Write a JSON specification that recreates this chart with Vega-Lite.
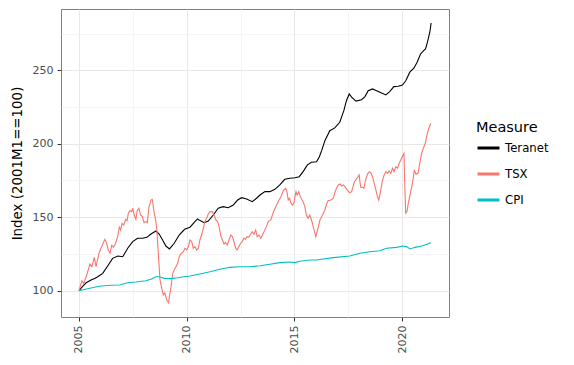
{
  "$schema": "https://vega.github.io/schema/vega-lite/v6.json",
  "width": 388,
  "height": 308,
  "autosize": {"type": "none"},
  "padding": {"left": 61, "top": 9, "right": 125, "bottom": 48},
  "background": "white",
  "config": {
    "font": "DejaVu Sans",
    "view": {"stroke": "#7f7f7f", "strokeWidth": 1},
    "axis": {
      "domain": false,
      "gridColor": "#e8e8e8",
      "gridWidth": 1,
      "tickColor": "#333333",
      "tickSize": 4,
      "labelColor": "#4d4d4d",
      "labelFontSize": 11,
      "labelPadding": 4,
      "titleFontWeight": "normal",
      "titleColor": "#000000",
      "titleFontSize": 13.4
    }
  },
  "data": {
    "values": [
      {"t": 2005.0, "m": "Teranet", "v": 100},
      {"t": 2005.17, "m": "Teranet", "v": 103},
      {"t": 2005.33, "m": "Teranet", "v": 105.4},
      {"t": 2005.56, "m": "Teranet", "v": 107.3},
      {"t": 2005.75, "m": "Teranet", "v": 108.5},
      {"t": 2005.87, "m": "Teranet", "v": 109.5},
      {"t": 2006.1, "m": "Teranet", "v": 111.8},
      {"t": 2006.33, "m": "Teranet", "v": 116.8},
      {"t": 2006.56, "m": "Teranet", "v": 122},
      {"t": 2006.8, "m": "Teranet", "v": 123.6},
      {"t": 2007.03, "m": "Teranet", "v": 123.1},
      {"t": 2007.26, "m": "Teranet", "v": 128.9},
      {"t": 2007.49, "m": "Teranet", "v": 133.4},
      {"t": 2007.72, "m": "Teranet", "v": 135.7},
      {"t": 2007.95, "m": "Teranet", "v": 135.7},
      {"t": 2008.15, "m": "Teranet", "v": 136.3},
      {"t": 2008.34, "m": "Teranet", "v": 138.6},
      {"t": 2008.57, "m": "Teranet", "v": 140.6},
      {"t": 2008.72, "m": "Teranet", "v": 138.6},
      {"t": 2008.88, "m": "Teranet", "v": 134.5},
      {"t": 2009.03, "m": "Teranet", "v": 130.4},
      {"t": 2009.2, "m": "Teranet", "v": 128.4},
      {"t": 2009.42, "m": "Teranet", "v": 132.3},
      {"t": 2009.65, "m": "Teranet", "v": 137.9},
      {"t": 2009.9, "m": "Teranet", "v": 141.8},
      {"t": 2010.15, "m": "Teranet", "v": 143.2},
      {"t": 2010.38, "m": "Teranet", "v": 147},
      {"t": 2010.5, "m": "Teranet", "v": 148.8},
      {"t": 2010.62, "m": "Teranet", "v": 147.7},
      {"t": 2010.81, "m": "Teranet", "v": 146.3},
      {"t": 2011.0, "m": "Teranet", "v": 147.4},
      {"t": 2011.23, "m": "Teranet", "v": 151.5},
      {"t": 2011.46, "m": "Teranet", "v": 156.1},
      {"t": 2011.69, "m": "Teranet", "v": 157.2},
      {"t": 2011.92, "m": "Teranet", "v": 156.5},
      {"t": 2012.16, "m": "Teranet", "v": 158.3},
      {"t": 2012.36, "m": "Teranet", "v": 161.7},
      {"t": 2012.55, "m": "Teranet", "v": 163.3},
      {"t": 2012.78, "m": "Teranet", "v": 162.4},
      {"t": 2013.04, "m": "Teranet", "v": 160.6},
      {"t": 2013.24, "m": "Teranet", "v": 162.9},
      {"t": 2013.4, "m": "Teranet", "v": 165.1},
      {"t": 2013.63, "m": "Teranet", "v": 167.4},
      {"t": 2013.86, "m": "Teranet", "v": 167.4},
      {"t": 2014.09, "m": "Teranet", "v": 169},
      {"t": 2014.32, "m": "Teranet", "v": 172},
      {"t": 2014.55, "m": "Teranet", "v": 175.8},
      {"t": 2014.79, "m": "Teranet", "v": 176.5},
      {"t": 2015.02, "m": "Teranet", "v": 176.9},
      {"t": 2015.22, "m": "Teranet", "v": 177.6},
      {"t": 2015.4, "m": "Teranet", "v": 181},
      {"t": 2015.6, "m": "Teranet", "v": 185.6},
      {"t": 2015.79, "m": "Teranet", "v": 187.4},
      {"t": 2016.02, "m": "Teranet", "v": 187.8},
      {"t": 2016.15, "m": "Teranet", "v": 191},
      {"t": 2016.26, "m": "Teranet", "v": 195.3},
      {"t": 2016.41, "m": "Teranet", "v": 202.1},
      {"t": 2016.64, "m": "Teranet", "v": 208.9},
      {"t": 2016.87, "m": "Teranet", "v": 210.8},
      {"t": 2017.1, "m": "Teranet", "v": 214.6},
      {"t": 2017.29, "m": "Teranet", "v": 222.5},
      {"t": 2017.41, "m": "Teranet", "v": 229.3},
      {"t": 2017.54, "m": "Teranet", "v": 233.9},
      {"t": 2017.65, "m": "Teranet", "v": 231.7},
      {"t": 2017.85, "m": "Teranet", "v": 229},
      {"t": 2018.11, "m": "Teranet", "v": 230},
      {"t": 2018.27, "m": "Teranet", "v": 232.1},
      {"t": 2018.42, "m": "Teranet", "v": 236.1},
      {"t": 2018.62, "m": "Teranet", "v": 237.3},
      {"t": 2018.81, "m": "Teranet", "v": 236.1},
      {"t": 2019.04, "m": "Teranet", "v": 234.6},
      {"t": 2019.24, "m": "Teranet", "v": 233.2},
      {"t": 2019.43, "m": "Teranet", "v": 235.7},
      {"t": 2019.61, "m": "Teranet", "v": 238.9},
      {"t": 2019.81, "m": "Teranet", "v": 239.1},
      {"t": 2020.01, "m": "Teranet", "v": 240},
      {"t": 2020.17, "m": "Teranet", "v": 243},
      {"t": 2020.35, "m": "Teranet", "v": 248.7},
      {"t": 2020.54, "m": "Teranet", "v": 251.4},
      {"t": 2020.69, "m": "Teranet", "v": 255.5},
      {"t": 2020.85, "m": "Teranet", "v": 261.1},
      {"t": 2020.97, "m": "Teranet", "v": 263},
      {"t": 2021.08, "m": "Teranet", "v": 264.5},
      {"t": 2021.17, "m": "Teranet", "v": 269.1},
      {"t": 2021.28, "m": "Teranet", "v": 275.9},
      {"t": 2021.34, "m": "Teranet", "v": 282.2},

      {"t": 2005.0, "m": "TSX", "v": 100},
      {"t": 2005.08, "m": "TSX", "v": 104},
      {"t": 2005.13, "m": "TSX", "v": 106.8},
      {"t": 2005.22, "m": "TSX", "v": 105},
      {"t": 2005.36, "m": "TSX", "v": 110.7},
      {"t": 2005.51, "m": "TSX", "v": 118.2},
      {"t": 2005.6, "m": "TSX", "v": 116.3},
      {"t": 2005.71, "m": "TSX", "v": 122.7},
      {"t": 2005.79, "m": "TSX", "v": 116.3},
      {"t": 2005.93, "m": "TSX", "v": 125.5},
      {"t": 2006.02, "m": "TSX", "v": 128.9},
      {"t": 2006.2, "m": "TSX", "v": 135},
      {"t": 2006.28, "m": "TSX", "v": 132.3},
      {"t": 2006.36, "m": "TSX", "v": 127.7},
      {"t": 2006.44, "m": "TSX", "v": 125.5},
      {"t": 2006.52, "m": "TSX", "v": 131},
      {"t": 2006.6, "m": "TSX", "v": 129.5},
      {"t": 2006.7, "m": "TSX", "v": 132.3},
      {"t": 2006.8, "m": "TSX", "v": 137.2},
      {"t": 2006.87, "m": "TSX", "v": 143.2},
      {"t": 2006.93, "m": "TSX", "v": 141.3},
      {"t": 2007.0, "m": "TSX", "v": 145.9},
      {"t": 2007.08, "m": "TSX", "v": 144.7},
      {"t": 2007.17, "m": "TSX", "v": 148.6},
      {"t": 2007.23, "m": "TSX", "v": 147.7},
      {"t": 2007.29, "m": "TSX", "v": 152.7},
      {"t": 2007.37, "m": "TSX", "v": 154.5},
      {"t": 2007.45, "m": "TSX", "v": 153.8},
      {"t": 2007.5, "m": "TSX", "v": 156.1},
      {"t": 2007.56, "m": "TSX", "v": 151.5},
      {"t": 2007.64, "m": "TSX", "v": 148.6},
      {"t": 2007.7, "m": "TSX", "v": 154.5},
      {"t": 2007.78, "m": "TSX", "v": 156.1},
      {"t": 2007.86, "m": "TSX", "v": 151.5},
      {"t": 2007.94, "m": "TSX", "v": 150.4},
      {"t": 2008.02, "m": "TSX", "v": 146.3},
      {"t": 2008.1, "m": "TSX", "v": 147},
      {"t": 2008.17, "m": "TSX", "v": 146.3},
      {"t": 2008.25, "m": "TSX", "v": 157.2},
      {"t": 2008.34, "m": "TSX", "v": 161.7},
      {"t": 2008.4, "m": "TSX", "v": 162.2},
      {"t": 2008.48, "m": "TSX", "v": 153.8},
      {"t": 2008.56, "m": "TSX", "v": 148.1},
      {"t": 2008.62, "m": "TSX", "v": 140.2},
      {"t": 2008.68, "m": "TSX", "v": 125.5},
      {"t": 2008.76, "m": "TSX", "v": 107.3},
      {"t": 2008.84, "m": "TSX", "v": 101.6},
      {"t": 2008.91, "m": "TSX", "v": 97.1},
      {"t": 2008.98, "m": "TSX", "v": 98.6},
      {"t": 2009.07, "m": "TSX", "v": 93.7},
      {"t": 2009.15, "m": "TSX", "v": 91.8},
      {"t": 2009.27, "m": "TSX", "v": 102.7},
      {"t": 2009.35, "m": "TSX", "v": 111.8},
      {"t": 2009.42, "m": "TSX", "v": 114.1},
      {"t": 2009.5, "m": "TSX", "v": 116.3},
      {"t": 2009.58, "m": "TSX", "v": 118.6},
      {"t": 2009.65, "m": "TSX", "v": 123.1},
      {"t": 2009.75, "m": "TSX", "v": 125.5},
      {"t": 2009.84, "m": "TSX", "v": 126.5},
      {"t": 2009.92, "m": "TSX", "v": 128.9},
      {"t": 2010.0, "m": "TSX", "v": 127.7},
      {"t": 2010.08, "m": "TSX", "v": 130},
      {"t": 2010.15, "m": "TSX", "v": 134.5},
      {"t": 2010.23, "m": "TSX", "v": 133.4},
      {"t": 2010.3, "m": "TSX", "v": 128.9},
      {"t": 2010.38, "m": "TSX", "v": 130},
      {"t": 2010.46, "m": "TSX", "v": 127.7},
      {"t": 2010.54, "m": "TSX", "v": 128.9},
      {"t": 2010.61, "m": "TSX", "v": 134.5},
      {"t": 2010.69, "m": "TSX", "v": 137.9},
      {"t": 2010.77, "m": "TSX", "v": 142.5},
      {"t": 2010.84, "m": "TSX", "v": 147},
      {"t": 2010.92, "m": "TSX", "v": 149.3},
      {"t": 2011.0, "m": "TSX", "v": 152.2},
      {"t": 2011.08, "m": "TSX", "v": 153.8},
      {"t": 2011.18, "m": "TSX", "v": 153.8},
      {"t": 2011.27, "m": "TSX", "v": 151.5},
      {"t": 2011.35, "m": "TSX", "v": 148.1},
      {"t": 2011.43, "m": "TSX", "v": 147},
      {"t": 2011.5, "m": "TSX", "v": 143.6},
      {"t": 2011.59, "m": "TSX", "v": 136.8},
      {"t": 2011.66, "m": "TSX", "v": 134.5},
      {"t": 2011.73, "m": "TSX", "v": 131.8},
      {"t": 2011.8, "m": "TSX", "v": 132.7},
      {"t": 2011.88, "m": "TSX", "v": 131.1},
      {"t": 2011.96, "m": "TSX", "v": 134.5},
      {"t": 2012.04, "m": "TSX", "v": 137.9},
      {"t": 2012.12, "m": "TSX", "v": 136.8},
      {"t": 2012.19, "m": "TSX", "v": 133.4},
      {"t": 2012.27, "m": "TSX", "v": 128.9},
      {"t": 2012.34, "m": "TSX", "v": 127.7},
      {"t": 2012.42, "m": "TSX", "v": 130},
      {"t": 2012.5, "m": "TSX", "v": 132.3},
      {"t": 2012.57, "m": "TSX", "v": 133.4},
      {"t": 2012.65, "m": "TSX", "v": 135.7},
      {"t": 2012.72, "m": "TSX", "v": 135},
      {"t": 2012.8, "m": "TSX", "v": 136.8},
      {"t": 2012.88, "m": "TSX", "v": 136.4},
      {"t": 2012.96, "m": "TSX", "v": 138.6},
      {"t": 2013.04, "m": "TSX", "v": 140.2},
      {"t": 2013.12, "m": "TSX", "v": 138.4},
      {"t": 2013.2, "m": "TSX", "v": 141.3},
      {"t": 2013.27, "m": "TSX", "v": 136.8},
      {"t": 2013.35, "m": "TSX", "v": 137.9},
      {"t": 2013.44, "m": "TSX", "v": 135.7},
      {"t": 2013.55, "m": "TSX", "v": 139.1},
      {"t": 2013.7, "m": "TSX", "v": 143.6},
      {"t": 2013.78, "m": "TSX", "v": 147},
      {"t": 2013.9, "m": "TSX", "v": 148.1},
      {"t": 2014.01, "m": "TSX", "v": 153.1},
      {"t": 2014.12, "m": "TSX", "v": 156.8},
      {"t": 2014.24, "m": "TSX", "v": 160.6},
      {"t": 2014.37, "m": "TSX", "v": 164},
      {"t": 2014.48, "m": "TSX", "v": 168.1},
      {"t": 2014.59, "m": "TSX", "v": 169.7},
      {"t": 2014.65, "m": "TSX", "v": 167.4},
      {"t": 2014.71, "m": "TSX", "v": 161.7},
      {"t": 2014.77, "m": "TSX", "v": 162.9},
      {"t": 2014.83, "m": "TSX", "v": 159.9},
      {"t": 2014.9, "m": "TSX", "v": 158.3},
      {"t": 2014.97, "m": "TSX", "v": 159.5},
      {"t": 2015.02, "m": "TSX", "v": 164},
      {"t": 2015.07, "m": "TSX", "v": 167.4},
      {"t": 2015.12, "m": "TSX", "v": 165.1},
      {"t": 2015.2, "m": "TSX", "v": 167.4},
      {"t": 2015.27, "m": "TSX", "v": 164},
      {"t": 2015.4, "m": "TSX", "v": 160.6},
      {"t": 2015.48, "m": "TSX", "v": 157.2},
      {"t": 2015.55, "m": "TSX", "v": 151.5},
      {"t": 2015.63, "m": "TSX", "v": 149.3},
      {"t": 2015.71, "m": "TSX", "v": 151.5},
      {"t": 2015.79, "m": "TSX", "v": 148.1},
      {"t": 2015.87, "m": "TSX", "v": 143.6},
      {"t": 2015.93, "m": "TSX", "v": 140.2},
      {"t": 2015.99, "m": "TSX", "v": 136.8},
      {"t": 2016.07, "m": "TSX", "v": 141.3},
      {"t": 2016.18, "m": "TSX", "v": 148.1},
      {"t": 2016.3, "m": "TSX", "v": 151.5},
      {"t": 2016.41, "m": "TSX", "v": 154.9},
      {"t": 2016.49, "m": "TSX", "v": 159},
      {"t": 2016.56, "m": "TSX", "v": 161.3},
      {"t": 2016.69, "m": "TSX", "v": 161.7},
      {"t": 2016.8, "m": "TSX", "v": 162.9},
      {"t": 2016.87, "m": "TSX", "v": 166.7},
      {"t": 2016.95, "m": "TSX", "v": 169.7},
      {"t": 2017.03, "m": "TSX", "v": 172},
      {"t": 2017.11, "m": "TSX", "v": 172.6},
      {"t": 2017.19, "m": "TSX", "v": 171.3},
      {"t": 2017.27, "m": "TSX", "v": 172},
      {"t": 2017.34, "m": "TSX", "v": 170.8},
      {"t": 2017.45, "m": "TSX", "v": 168.5},
      {"t": 2017.57, "m": "TSX", "v": 166.7},
      {"t": 2017.65, "m": "TSX", "v": 167.4},
      {"t": 2017.78, "m": "TSX", "v": 174.2},
      {"t": 2017.9, "m": "TSX", "v": 176.5},
      {"t": 2018.0, "m": "TSX", "v": 178.8},
      {"t": 2018.07, "m": "TSX", "v": 170.4},
      {"t": 2018.15, "m": "TSX", "v": 170.4},
      {"t": 2018.22, "m": "TSX", "v": 169.7},
      {"t": 2018.3, "m": "TSX", "v": 175.4},
      {"t": 2018.39, "m": "TSX", "v": 179.4},
      {"t": 2018.47, "m": "TSX", "v": 181},
      {"t": 2018.54, "m": "TSX", "v": 180.3},
      {"t": 2018.62, "m": "TSX", "v": 177.6},
      {"t": 2018.7, "m": "TSX", "v": 173.1},
      {"t": 2018.78, "m": "TSX", "v": 168.5},
      {"t": 2018.85, "m": "TSX", "v": 164},
      {"t": 2018.91, "m": "TSX", "v": 161.7},
      {"t": 2018.99, "m": "TSX", "v": 167.4},
      {"t": 2019.07, "m": "TSX", "v": 174.2},
      {"t": 2019.16, "m": "TSX", "v": 178.8},
      {"t": 2019.24, "m": "TSX", "v": 181},
      {"t": 2019.32, "m": "TSX", "v": 179.9},
      {"t": 2019.39, "m": "TSX", "v": 181.5},
      {"t": 2019.47, "m": "TSX", "v": 179.9},
      {"t": 2019.55, "m": "TSX", "v": 183.3},
      {"t": 2019.62, "m": "TSX", "v": 181},
      {"t": 2019.7, "m": "TSX", "v": 184.4},
      {"t": 2019.78, "m": "TSX", "v": 183.3},
      {"t": 2019.86, "m": "TSX", "v": 186.7},
      {"t": 2019.93, "m": "TSX", "v": 189},
      {"t": 2020.04, "m": "TSX", "v": 192.4},
      {"t": 2020.08, "m": "TSX", "v": 193.5},
      {"t": 2020.12, "m": "TSX", "v": 170.8},
      {"t": 2020.16, "m": "TSX", "v": 152.7},
      {"t": 2020.22, "m": "TSX", "v": 153.8},
      {"t": 2020.28, "m": "TSX", "v": 159.5},
      {"t": 2020.36, "m": "TSX", "v": 165.1},
      {"t": 2020.44, "m": "TSX", "v": 170.8},
      {"t": 2020.51, "m": "TSX", "v": 176.5},
      {"t": 2020.56, "m": "TSX", "v": 182.2},
      {"t": 2020.64, "m": "TSX", "v": 179.2},
      {"t": 2020.73, "m": "TSX", "v": 179.9},
      {"t": 2020.8, "m": "TSX", "v": 185.6},
      {"t": 2020.9, "m": "TSX", "v": 193.5},
      {"t": 2020.98, "m": "TSX", "v": 196.9},
      {"t": 2021.07, "m": "TSX", "v": 200.3},
      {"t": 2021.15, "m": "TSX", "v": 206},
      {"t": 2021.23, "m": "TSX", "v": 210.6},
      {"t": 2021.33, "m": "TSX", "v": 214},

      {"t": 2005.0, "m": "CPI", "v": 100},
      {"t": 2005.3, "m": "CPI", "v": 101},
      {"t": 2005.71, "m": "CPI", "v": 102.3},
      {"t": 2006.02, "m": "CPI", "v": 103.2},
      {"t": 2006.48, "m": "CPI", "v": 103.7},
      {"t": 2006.87, "m": "CPI", "v": 103.9},
      {"t": 2007.26, "m": "CPI", "v": 105.4},
      {"t": 2007.64, "m": "CPI", "v": 105.9},
      {"t": 2008.1, "m": "CPI", "v": 106.8},
      {"t": 2008.34, "m": "CPI", "v": 107.8},
      {"t": 2008.57, "m": "CPI", "v": 109.5},
      {"t": 2008.72, "m": "CPI", "v": 109.5},
      {"t": 2008.96, "m": "CPI", "v": 108.4},
      {"t": 2009.27, "m": "CPI", "v": 108.2},
      {"t": 2009.58, "m": "CPI", "v": 108.8},
      {"t": 2009.88, "m": "CPI", "v": 109.5},
      {"t": 2010.15, "m": "CPI", "v": 110},
      {"t": 2010.61, "m": "CPI", "v": 111.4},
      {"t": 2011.08, "m": "CPI", "v": 112.9},
      {"t": 2011.54, "m": "CPI", "v": 114.6},
      {"t": 2012.0, "m": "CPI", "v": 115.9},
      {"t": 2012.47, "m": "CPI", "v": 116.3},
      {"t": 2012.93, "m": "CPI", "v": 116.3},
      {"t": 2013.4, "m": "CPI", "v": 117},
      {"t": 2013.86, "m": "CPI", "v": 118},
      {"t": 2014.32, "m": "CPI", "v": 119.1},
      {"t": 2014.79, "m": "CPI", "v": 119.5},
      {"t": 2015.02, "m": "CPI", "v": 119.1},
      {"t": 2015.25, "m": "CPI", "v": 120},
      {"t": 2015.71, "m": "CPI", "v": 120.9},
      {"t": 2016.02, "m": "CPI", "v": 120.9},
      {"t": 2016.8, "m": "CPI", "v": 122.5},
      {"t": 2017.57, "m": "CPI", "v": 123.6},
      {"t": 2018.03, "m": "CPI", "v": 125.5},
      {"t": 2018.5, "m": "CPI", "v": 126.5},
      {"t": 2018.96, "m": "CPI", "v": 127.2},
      {"t": 2019.27, "m": "CPI", "v": 128.9},
      {"t": 2019.74, "m": "CPI", "v": 129.5},
      {"t": 2020.04, "m": "CPI", "v": 130.4},
      {"t": 2020.2, "m": "CPI", "v": 130},
      {"t": 2020.36, "m": "CPI", "v": 128.4},
      {"t": 2020.6, "m": "CPI", "v": 129.5},
      {"t": 2020.9, "m": "CPI", "v": 130.4},
      {"t": 2021.15, "m": "CPI", "v": 131.6},
      {"t": 2021.33, "m": "CPI", "v": 132.7}
    ]
  },
  "layer": [
    {
      "mark": {"type": "line", "strokeOpacity": 0},
      "encoding": {
        "x": {
          "field": "t", "type": "quantitative",
          "axis": {"orient": "top", "values": [2007.5, 2012.5, 2017.5], "labels": false, "ticks": false, "domain": false, "grid": true, "gridColor": "#f2f2f2", "gridWidth": 0.8, "title": null}
        },
        "y": {
          "field": "v", "type": "quantitative",
          "axis": {"orient": "right", "values": [125, 175, 225, 275], "labels": false, "ticks": false, "domain": false, "grid": true, "gridColor": "#f2f2f2", "gridWidth": 0.8, "title": null}
        },
        "detail": {"field": "m", "type": "nominal"}
      }
    },
    {
      "mark": {"type": "line", "strokeWidth": 1.1},
      "encoding": {
        "x": {
          "field": "t", "type": "quantitative",
          "scale": {"domain": [2004.165, 2022.17], "nice": false, "zero": false},
          "axis": {"orient": "bottom", "values": [2005, 2010, 2015, 2020], "format": "d", "labelAngle": 270, "title": null, "grid": true}
        },
        "y": {
          "field": "v", "type": "quantitative",
          "scale": {"domain": [82.1, 291.7], "nice": false, "zero": false},
          "axis": {"orient": "left", "values": [100, 150, 200, 250], "title": "Index (2001M1==100)", "titlePadding": 8, "grid": true}
        },
        "color": {
          "field": "m", "type": "nominal",
          "scale": {"domain": ["Teranet", "TSX", "CPI"], "range": ["#000000", "#F8766D", "#00BFC4"]},
          "legend": {
            "orient": "none", "legendX": 415, "legendY": 112,
            "title": "Measure", "titleFontSize": 14.5, "titleFontWeight": "normal", "titleColor": "#000000", "titlePadding": 0,
            "labelFontSize": 11.7, "labelColor": "#000000", "labelOffset": 4,
            "symbolType": "stroke", "symbolStrokeWidth": 3, "symbolSize": 484, "rowPadding": 6, "padding": 0
          }
        }
      }
    }
  ]
}
